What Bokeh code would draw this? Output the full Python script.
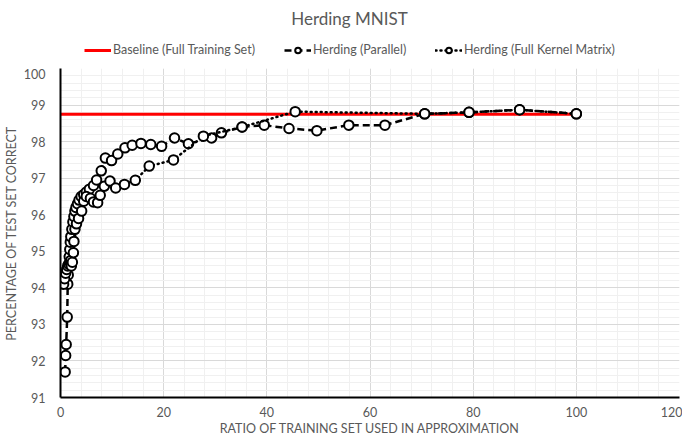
from bokeh.plotting import figure
from bokeh.models import Legend, LegendItem, FixedTicker, Range1d, Label
from bokeh.layouts import column
from bokeh.embed import file_html
from bokeh.resources import INLINE

# ---- data ----
baseline_x = [0, 100]
baseline_y = [98.75, 98.75]

par_x = [0.9, 1.0, 1.1, 1.3, 1.4, 1.5, 1.6, 1.7, 1.8, 1.9, 2.0, 2.2, 2.4, 2.6, 2.8, 3.0,
         3.3, 3.6, 4.0, 4.5, 5.0, 5.6, 6.4, 7.0, 7.9, 8.7, 9.9, 11.1, 12.5, 13.9, 15.6,
         17.5, 19.6, 22.1, 24.8, 29.3, 31.2, 35.2, 39.5, 44.3, 49.7, 55.9, 62.9, 70.6,
         79.2, 89.0, 100]
par_y = [91.7, 92.15, 92.45, 93.2, 94.1, 94.35, 94.6, 94.85, 95.05, 95.25, 95.4, 95.6,
         95.8, 95.95, 96.1, 96.2, 96.3, 96.4, 96.5, 96.55, 96.62, 96.7, 96.8, 96.95, 97.2,
         97.55, 97.48, 97.66, 97.83, 97.9, 97.95, 97.92, 97.87, 98.1, 97.94, 98.1, 98.24,
         98.4, 98.45, 98.36, 98.3, 98.45, 98.45, 98.76, 98.8, 98.87, 98.76]

kern_x = [0.6, 0.8, 1.0, 1.2, 1.4, 1.6, 1.8, 2.0, 2.1, 2.3, 2.5, 2.6, 2.8, 3.1, 3.5, 4.1,
          4.5, 5.0, 5.8, 6.4, 7.2, 7.7, 8.5, 9.6, 10.7, 12.4, 14.5, 17.2, 21.9, 27.7, 35.2,
          45.5, 70.6, 79.2, 89.0, 100]
kern_y = [94.1, 94.25, 94.4, 94.5, 94.6, 94.65, 94.7, 94.75, 94.6, 94.7, 94.96, 95.27,
          95.6, 95.75, 95.9, 96.1, 96.37, 96.5, 96.45, 96.35, 96.33, 96.53, 96.78, 96.92,
          96.73, 96.83, 96.94, 97.33, 97.5, 98.15, 98.4, 98.82, 98.76, 98.8, 98.87, 98.76]

series_names = ["Baseline (Full Training Set)", "Herding (Parallel)",
                "Herding (Full Kernel Matrix)"]
title_text = "Herding MNIST"

x_ticks = [0, 20, 40, 60, 80, 100, 120]
y_ticks = [91, 92, 93, 94, 95, 96, 97, 98, 99, 100]

FONT = "Lato"
GREY = "#595959"

LEFT, FW, RIGHT = 54, 619, 3

# ---------- header figure: title + legend ----------
HH = 68
h = figure(frame_width=FW, frame_height=HH, x_range=Range1d(LEFT, LEFT + FW),
           y_range=Range1d(0, HH), output_backend="svg", toolbar_location=None,
           min_border_left=LEFT, min_border_right=RIGHT, min_border_top=0,
           min_border_bottom=0, x_axis_location=None, y_axis_location=None)
h.outline_line_color = None
h.xgrid.visible = False
h.ygrid.visible = False

h.add_layout(Label(x=343, y=HH - 18, text=title_text, text_align="center",
                   text_baseline="middle", text_font=FONT, text_font_size="17px",
                   text_color=GREY))

hb = h.line([-20, -10], [-20, -20], line_color="#ff0000", line_width=3)
hp_l = h.line([-20, -10], [-20, -20], line_color="black", line_width=2.5, line_dash="7 4")
hp_m = h.scatter([-20], [-20], marker="circle", size=9, fill_color="white",
                 line_color="black", line_width=2)
hk_l = h.line([-20, -10], [-20, -20], line_color="black", line_width=2.5, line_dash="1 4",
              line_cap="round")
hk_m = h.scatter([-20], [-20], marker="circle", size=9, fill_color="white",
                 line_color="black", line_width=2)

item_renderers = [[hb], [hp_l, hp_m], [hk_l, hk_m]]
item_x = [65, 265, 416]
for name, rends, lx in zip(series_names, item_renderers, item_x):
    lg = Legend(items=[LegendItem(label=name, renderers=rends)],
                orientation="horizontal", location=(lx, 11))
    lg.label_text_font = FONT
    lg.label_text_font_size = "12.5px"
    lg.label_text_color = GREY
    lg.glyph_width = 27
    lg.glyph_height = 14
    lg.label_standoff = 2
    lg.padding = 3
    lg.margin = 0
    lg.border_line_color = None
    lg.background_fill_alpha = 0
    h.add_layout(lg, "center")

# ---------- main figure ----------
p = figure(frame_width=FW, frame_height=329, x_range=Range1d(0, 120),
           y_range=Range1d(91, 100), output_backend="svg", toolbar_location=None,
           min_border_left=LEFT, min_border_right=RIGHT, min_border_bottom=0,
           min_border_top=0)
p.outline_line_color = None

x_minor = [i * 4 for i in range(31)]
y_minor = [round(91 + i * 0.2, 1) for i in range(46)]
p.xaxis.ticker = FixedTicker(ticks=x_ticks, minor_ticks=x_minor)
p.yaxis.ticker = FixedTicker(ticks=y_ticks, minor_ticks=y_minor)
p.xgrid.ticker = FixedTicker(ticks=x_ticks, minor_ticks=x_minor)
p.ygrid.ticker = FixedTicker(ticks=y_ticks, minor_ticks=y_minor)
for g in (p.xgrid, p.ygrid):
    g.grid_line_color = "#d9d9d9"
    g.minor_grid_line_color = "#f0f0f0"
    g.grid_line_width = 1

for ax in (p.xaxis, p.yaxis):
    ax.axis_line_color = "black"
    ax.axis_line_width = 2
    ax.major_tick_line_color = None
    ax.minor_tick_line_color = None
    ax.major_tick_out = 0
    ax.major_tick_in = 0
    ax.minor_tick_out = 0
    ax.minor_tick_in = 0
    ax.major_label_text_font = FONT
    ax.major_label_text_font_size = "12.5px"
    ax.major_label_text_color = GREY
    ax.axis_label_text_font = FONT
    ax.axis_label_text_font_size = "12.5px"
    ax.axis_label_text_color = GREY
    ax.axis_label_text_font_style = "normal"

p.xaxis.axis_label = "RATIO OF TRAINING SET USED IN APPROXIMATION"
p.yaxis.axis_label = "PERCENTAGE OF TEST SET CORRECT"
p.xaxis.major_label_standoff = 9
p.yaxis.major_label_standoff = 15
p.xaxis.axis_label_standoff = 1
p.yaxis.axis_label_standoff = 2

r_base = p.line(baseline_x, baseline_y, line_color="#ff0000", line_width=3)
r_par_l = p.line(par_x, par_y, line_color="black", line_width=2.5, line_dash="7 4")
r_par_m = p.scatter(par_x, par_y, marker="circle", size=9.5, fill_color="white",
                    line_color="black", line_width=2)
r_ker_l = p.line(kern_x, kern_y, line_color="black", line_width=2.5, line_dash="1 4",
                 line_cap="round")
r_ker_m = p.scatter(kern_x, kern_y, marker="circle", size=9.5, fill_color="white",
                    line_color="black", line_width=2)

layout = column(h, p, spacing=0)
open("out.html", "w").write(file_html(layout, INLINE))
